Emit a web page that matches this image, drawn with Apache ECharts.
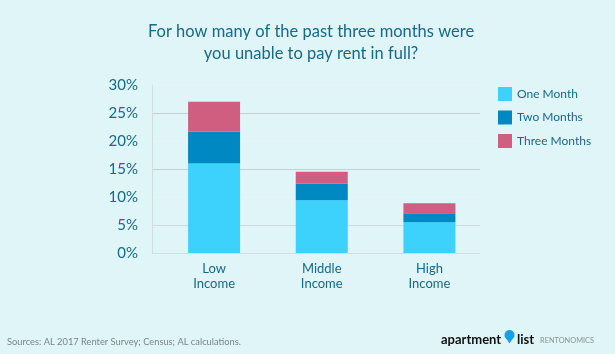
<!DOCTYPE html>
<html><head><meta charset="utf-8">
<script src="https://cdn.jsdelivr.net/npm/echarts@6/dist/echarts.min.js"></script>
<style>html,body{margin:0;padding:0;background:#dff5f8;}#c{width:615px;height:354px;}</style>
</head><body><div id="c"></div>
<script>
const categories = ['Low\nIncome', 'Middle\nIncome', 'High\nIncome'];
const oneMonth = [16.0, 9.4, 5.5];
const twoMonths = [5.7, 3.0, 1.6];
const threeMonths = [5.3, 2.1, 1.8];
const seriesNames = ['One Month', 'Two Months', 'Three Months'];
const yTicks = [0, 5, 10, 15, 20, 25, 30];

const colors = ['#3dd2fb', '#0088c3', '#cf5e80'];
const teal = '#17698a';
const font = 'Lato';

const chart = echarts.init(document.getElementById('c'));
chart.setOption({
  backgroundColor: '#dff5f8',
  animation: false,
  title: {
    text: 'For how many of the past three months were\nyou unable to pay rent in full?',
    left: 306, top: 16, textAlign: 'center',
    textStyle: { color: teal, fontFamily: font, fontSize: 16.5, fontWeight: 'normal', lineHeight: 22 }
  },
  legend: {
    orient: 'vertical', left: 493, top: 82, itemWidth: 14, itemHeight: 14, itemGap: 9.5,
    icon: 'rect',
    data: seriesNames,
    textStyle: { color: teal, fontFamily: font, fontSize: 12 }
  },
  grid: [
    { left: 152, right: 135, top: 85, bottom: 101 },
    { left: 160.25, right: 131.75, top: 85, bottom: 101 }
  ],
  xAxis: [
    { type: 'category', gridIndex: 0, data: categories, show: false },
    {
      type: 'category', gridIndex: 1, data: categories,
      axisLine: { show: false }, axisTick: { show: false },
      axisLabel: { color: teal, fontFamily: font, fontSize: 13, lineHeight: 15, margin: 8 }
    }
  ],
  yAxis: [
    {
      type: 'value', gridIndex: 0, min: 0, max: 30, interval: 5,
      axisLine: { show: true, lineStyle: { color: '#d0dde1', width: 1 } },
      axisTick: { show: false },
      axisLabel: { formatter: (v) => yTicks.includes(v) ? v + '%' : '', color: teal, fontFamily: font, fontSize: 15, margin: 14 },
      splitLine: { show: true, lineStyle: { color: ['#d0dde1', '#cfdcdf', '#e9f4f6', '#c8cfd3', '#e9f4f6', '#c8cfd3', '#e9f4f6'], width: 1 } }
    },
    { type: 'value', gridIndex: 1, min: 0, max: 30, interval: 5, show: false, splitLine: { show: false } }
  ],
  series: [
    { name: seriesNames[0], type: 'bar', stack: 's', xAxisIndex: 1, yAxisIndex: 1, data: oneMonth, barWidth: 52, itemStyle: { color: colors[0] } },
    { name: seriesNames[1], type: 'bar', stack: 's', xAxisIndex: 1, yAxisIndex: 1, data: twoMonths, barWidth: 52, itemStyle: { color: colors[1] } },
    { name: seriesNames[2], type: 'bar', stack: 's', xAxisIndex: 1, yAxisIndex: 1, data: threeMonths, barWidth: 52, itemStyle: { color: colors[2] } }
  ],
  graphic: [
    { type: 'text', left: 7, top: 337, style: { text: 'Sources: AL 2017 Renter Survey; Census; AL calculations.', fill: '#7a8588', font: '9.3px ' + font } },
    { type: 'text', left: 441, top: 333, style: { text: 'apartment', fill: '#111', font: 'bold 13px ' + font } },
    { type: 'polygon', shape: { points: [[504.5, 336], [514.5, 336], [509.5, 343.5]] }, style: { fill: '#1a9fe0' } },
    { type: 'circle', shape: { cx: 509.5, cy: 335, r: 5 }, style: { fill: '#1a9fe0' } },
    { type: 'text', left: 517, top: 333, style: { text: 'list', fill: '#111', font: 'bold 13px ' + font } },
    { type: 'text', left: 540, top: 337.5, style: { text: 'RENTONOMICS', fill: '#8a9597', font: '7.4px ' + font } }
  ]
});
</script></body></html>
